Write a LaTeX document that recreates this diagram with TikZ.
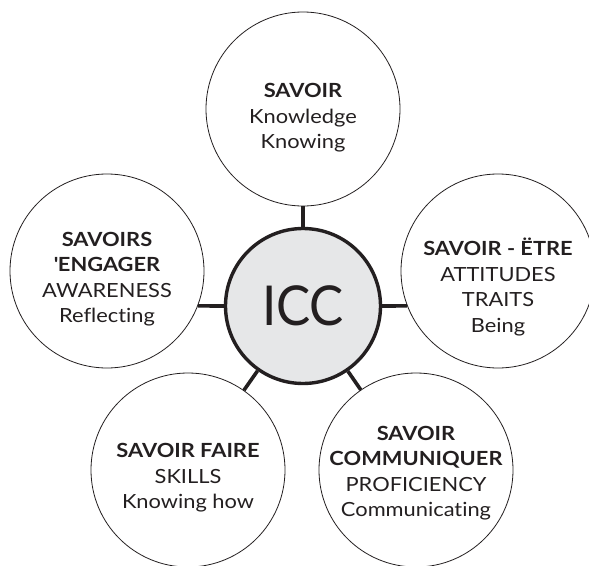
\documentclass[tikz,border=0pt]{standalone}
\usepackage{fontspec}
\setmainfont{Lato}[Ligatures=NoCommon, FakeStretch=1.12]
\newfontfamily\iccfont{Lato}[FakeStretch=0.93]
\definecolor{ink}{HTML}{231F20}
\definecolor{core}{HTML}{E6E7E8}
\begin{document}
\begin{tikzpicture}[x=1pt,y=-1pt,
	part/.style={circle, draw=ink, line width=0.8pt, minimum size=194pt},
	words/.style={align=center, text=ink, inner sep=0pt, font=\fontsize{19.5}{25.5}\selectfont},
	link/.style={draw=ink, line width=3.6pt}]
	\useasboundingbox (0,0) rectangle (589,565);
	\node[circle, draw=ink, fill=core, line width=3.4pt, minimum size=155pt,
		font=\iccfont\fontsize{55}{55}\selectfont, text=ink] (icc) at (303,306) {ICC};
	\node[part] (savoir) at (303,109) {};
	\node[part] (etre) at (498,271) {};
	\node[part] (engager) at (107,271) {};
	\node[part] (faire) at (188,470) {};
	\node[part] (comm) at (416,470) {};
	\node[words] (savoirtxt) at (303,118) {\textbf{SAVOIR}\\Knowledge\\Knowing};
	\node[words] (etretxt) at (498,287) {\textbf{SAVOIR - ËTRE}\\ATTITUDES\\TRAITS\\Being};
	\node[words] (engagertxt) at (107,279) {\textbf{SAVOIRS}\\\textbf{\textquotesingle ENGAGER}\\AWARENESS\\Reflecting};
	\node[words] (fairetxt) at (188,478) {\textbf{SAVOIR FAIRE}\\SKILLS\\Knowing how};
	\node[words] (commtxt) at (416,473) {\textbf{SAVOIR}\\\textbf{COMMUNIQUER}\\PROFICIENCY\\Communicating};
	\draw[link] (icc) -- (savoir);
	\draw[link] (icc.east) -- (etre.201);
	\draw[link] (icc.west) -- (engager.339);
	\draw[link] (icc) -- (faire);
	\draw[link] (icc) -- (comm);
\end{tikzpicture}
\end{document}
